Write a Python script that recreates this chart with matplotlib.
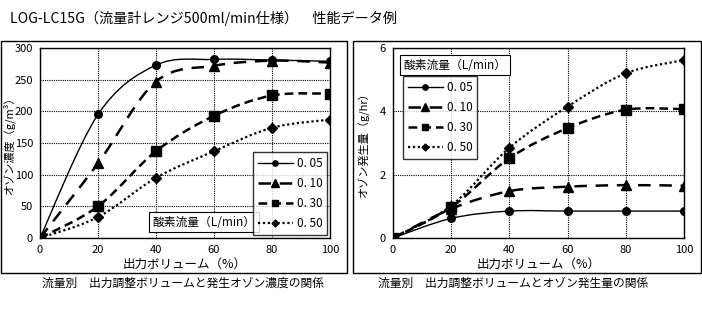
import numpy as np
import matplotlib
matplotlib.use("Agg")
import matplotlib.pyplot as plt
from matplotlib.path import Path
from matplotlib.patches import PathPatch, Rectangle
from matplotlib.lines import Line2D

plt.rcParams['font.family'] = ['Noto Sans CJK JP', 'DejaVu Sans']

# Output volume (%)
volume = [0, 20, 40, 60, 80, 100]
flow_labels = ["0. 05", "0. 10", "0. 30", "0. 50"]

# Ozone concentration (g/m3) per oxygen flow rate
conc_005 = [0, 195, 273, 282, 281, 279]
conc_010 = [0, 118, 247, 272, 280, 277]
conc_030 = [0, 50, 137, 193, 225, 228]
conc_050 = [0, 33, 95, 137, 174, 187]

# Ozone production (g/hr) per oxygen flow rate
prod_005 = [0, 0.62, 0.85, 0.85, 0.85, 0.85]
prod_010 = [0, 0.92, 1.48, 1.62, 1.67, 1.65]
prod_030 = [0, 0.97, 2.52, 3.47, 4.05, 4.07]
prod_050 = [0, 1.02, 2.85, 4.15, 5.2, 5.62]

title = "LOG-LC15G（流量計レンジ500ml/min仕様）　性能データ例"
xlabel = "出力ボリューム（%）"
ylabel_left = "オゾン濃度（g/m³）"
ylabel_right = "オゾン発生量（g/hr）"
legend_title = "酸素流量（L/min）"
caption_left = "流量別　出力調整ボリュームと発生オゾン濃度の関係"
caption_right = "流量別　出力調整ボリュームとオゾン発生量の関係"

styles = [
    dict(ls='-', lw=1.0, marker='o', ms=5.5),
    dict(ls=(0, (5, 3.5)), lw=1.8, marker='^', ms=7.5),
    dict(ls=(0, (3.5, 2)), lw=1.8, marker='s', ms=7),
    dict(ls=(0, (1, 1.2)), lw=1.6, marker='D', ms=5),
]

W, H = 702, 332
fig = plt.figure(figsize=(W / 100, H / 100), dpi=100)


def px_rect(x0, y0, x1, y1):
    return [x0 / W, 1 - y1 / H, (x1 - x0) / W, (y1 - y0) / H]


def smooth(ax, xs, ys, **kw):
    """Draw a Catmull-Rom style smoothed curve through the points."""
    pts = ax.transData.transform(np.column_stack([xs, ys]))
    n = len(pts)
    verts = [pts[0]]
    codes = [Path.MOVETO]
    for i in range(n - 1):
        p0 = pts[i - 1] if i > 0 else pts[i]
        p1 = pts[i]
        p2 = pts[i + 1]
        p3 = pts[i + 2] if i + 2 < n else pts[i + 1]
        c1 = p1 + (p2 - p0) / 6.0
        c2 = p2 - (p3 - p1) / 6.0
        verts += [c1, c2, p2]
        codes += [Path.CURVE4] * 3
    verts = ax.transData.inverted().transform(np.array(verts))
    patch = PathPatch(Path(verts, codes), fill=False, capstyle='butt',
                      edgecolor='black', linewidth=kw['lw'], linestyle=kw['ls'])
    ax.add_patch(patch)
    ax.plot(xs, ys, ls='none', marker=kw['marker'], ms=kw['ms'],
            color='black', zorder=5)


def setup(ax, ylim, yticks, ylabel, label_x):
    ax.set_xlim(0, 100)
    ax.set_ylim(*ylim)
    ax.set_xticks(volume)
    ax.set_yticks(yticks)
    ax.tick_params(length=0, labelsize=8, pad=5)
    ax.grid(True, color='black', ls=(0, (1, 1)), lw=0.8)
    for s in ax.spines.values():
        s.set_color('black')
        s.set_linewidth(1.0)
    ax.set_xlabel(xlabel, fontsize=9, labelpad=2)
    ax.set_ylabel(ylabel, fontsize=8, va='center')
    ax.yaxis.set_label_coords(label_x, 0.5)


def handles():
    return [Line2D([], [], color='black', ls=s['ls'], lw=s['lw'],
                   marker=s['marker'], ms=s['ms'] * 0.7) for s in styles]


legend_kw = dict(fontsize=8.5, frameon=True, fancybox=False, edgecolor='black',
                 handlelength=3.0, handletextpad=0.3, labelspacing=0.6,
                 borderaxespad=0.0, borderpad=0.4)

# outer frames for the two panels
for r in [(1, 41, 347, 273), (353, 41, 701, 273)]:
    fig.patches.append(Rectangle((r[0] / W, 1 - r[3] / H), (r[2] - r[0]) / W,
                                 (r[3] - r[1]) / H, transform=fig.transFigure,
                                 fill=False, edgecolor='black', lw=1.0))

fig.text(10 / W, 1 - 18 / H, title, fontsize=10.2, va='center', ha='left')

# Left: ozone concentration
ax1 = fig.add_axes(px_rect(40, 48, 330, 238))
setup(ax1, (0, 300), [0, 50, 100, 150, 200, 250, 300], ylabel_left,
      (9 - 40) / 290)
for ys, st in zip([conc_005, conc_010, conc_030, conc_050], styles):
    smooth(ax1, volume, ys, **st)
leg1 = ax1.legend(handles(), flow_labels, loc='lower right',
                  bbox_to_anchor=(0.99, 0.015), **legend_kw)
leg1.get_frame().set_linewidth(1.0)
ax1.text(0.564, 0.082, legend_title, transform=ax1.transAxes, fontsize=8.5,
         ha='center', va='center',
         bbox=dict(boxstyle='square,pad=0.3', fc='white', ec='black', lw=0.8))

# Right: ozone production
ax2 = fig.add_axes(px_rect(393, 48, 684, 238))
setup(ax2, (0, 6), [0, 2, 4, 6], ylabel_right, (364 - 393) / 291)
for ys, st in zip([prod_005, prod_010, prod_030, prod_050], styles):
    smooth(ax2, volume, ys, **st)
leg2 = ax2.legend(handles(), flow_labels, loc='upper left',
                  bbox_to_anchor=(0.034, 0.853), **legend_kw)
leg2.get_frame().set_linewidth(1.0)
ax2.text(0.213, 0.91, legend_title, transform=ax2.transAxes, fontsize=8.5,
         ha='center', va='center',
         bbox=dict(boxstyle='square,pad=0.3', fc='white', ec='black', lw=0.8))

fig.text(42 / W, 1 - 283 / H, caption_left, fontsize=8.5, va='center', ha='left')
fig.text(378 / W, 1 - 283 / H, caption_right, fontsize=8.5, va='center', ha='left')

fig.savefig("out.png", dpi=100)
